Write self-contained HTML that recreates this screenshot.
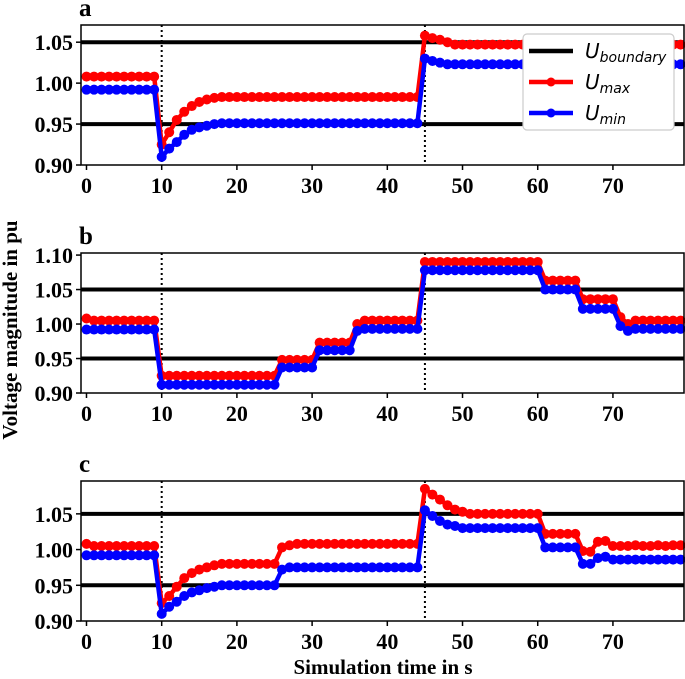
<!DOCTYPE html>
<html><head><meta charset="utf-8"><style>
html,body{margin:0;padding:0;background:#fff;}
svg{display:block;}
</style></head><body>
<svg id="chart" width="685" height="679" xmlns="http://www.w3.org/2000/svg"></svg>
<script>
const times = Array.from({length:80},(_,i)=>i);
const xTicks = [0,10,20,30,40,50,60,70];
const events = [10,45];
const boundaries = [0.95,1.05];
const aMax = [1.008,1.008,1.008,1.008,1.008,1.008,1.008,1.008,1.008,1.008,0.925,0.940,0.955,0.965,0.972,0.977,0.980,0.982,0.983,0.983,0.983,0.983,0.983,0.983,0.983,0.983,0.983,0.983,0.983,0.983,0.983,0.983,0.983,0.983,0.983,0.983,0.983,0.983,0.983,0.983,0.983,0.983,0.983,0.983,0.983,1.058,1.055,1.053,1.050,1.047,1.047,1.047,1.047,1.047,1.047,1.047,1.047,1.047,1.047,1.047,1.047,1.047,1.047,1.047,1.047,1.047,1.047,1.047,1.047,1.047,1.047,1.047,1.047,1.047,1.047,1.047,1.047,1.047,1.047,1.047];
const aMin = [0.992,0.992,0.992,0.992,0.992,0.992,0.992,0.992,0.992,0.992,0.910,0.920,0.928,0.937,0.943,0.946,0.948,0.950,0.951,0.951,0.951,0.951,0.951,0.951,0.951,0.951,0.951,0.951,0.951,0.951,0.951,0.951,0.951,0.951,0.951,0.951,0.951,0.951,0.951,0.951,0.951,0.951,0.951,0.951,0.951,1.030,1.027,1.025,1.023,1.023,1.023,1.023,1.023,1.023,1.023,1.023,1.023,1.023,1.023,1.023,1.023,1.023,1.023,1.023,1.023,1.023,1.023,1.023,1.023,1.023,1.023,1.023,1.023,1.023,1.023,1.023,1.023,1.023,1.023,1.023];
const bMax = [1.008,1.005,1.005,1.005,1.005,1.005,1.005,1.005,1.005,1.005,0.925,0.925,0.925,0.925,0.925,0.925,0.925,0.925,0.925,0.925,0.925,0.925,0.925,0.925,0.925,0.925,0.948,0.948,0.948,0.948,0.948,0.973,0.973,0.973,0.973,0.973,1.000,1.005,1.005,1.005,1.005,1.005,1.005,1.005,1.005,1.090,1.090,1.090,1.090,1.090,1.090,1.090,1.090,1.090,1.090,1.090,1.090,1.090,1.090,1.090,1.090,1.063,1.063,1.063,1.063,1.063,1.036,1.036,1.036,1.036,1.036,1.010,1.000,1.005,1.005,1.005,1.005,1.005,1.005,1.005];
const bMin = [0.992,0.992,0.992,0.992,0.992,0.992,0.992,0.992,0.992,0.992,0.912,0.912,0.912,0.912,0.912,0.912,0.912,0.912,0.912,0.912,0.912,0.912,0.912,0.912,0.912,0.912,0.937,0.937,0.937,0.937,0.937,0.962,0.962,0.962,0.962,0.962,0.990,0.993,0.993,0.993,0.993,0.993,0.993,0.993,0.993,1.078,1.078,1.078,1.078,1.078,1.078,1.078,1.078,1.078,1.078,1.078,1.078,1.078,1.078,1.078,1.078,1.050,1.050,1.050,1.050,1.050,1.022,1.022,1.022,1.022,1.022,0.997,0.990,0.993,0.993,0.993,0.993,0.993,0.993,0.993];
const cMax = [1.008,1.005,1.005,1.005,1.005,1.005,1.005,1.005,1.005,1.005,0.925,0.935,0.948,0.960,0.967,0.972,0.975,0.978,0.980,0.980,0.980,0.980,0.980,0.980,0.980,0.980,1.003,1.006,1.008,1.008,1.008,1.008,1.008,1.008,1.008,1.008,1.008,1.008,1.008,1.008,1.008,1.008,1.008,1.008,1.008,1.085,1.077,1.070,1.062,1.056,1.053,1.050,1.050,1.050,1.050,1.050,1.050,1.050,1.050,1.050,1.050,1.022,1.022,1.022,1.022,1.022,0.998,0.997,1.011,1.012,1.005,1.005,1.005,1.006,1.005,1.005,1.006,1.005,1.006,1.006];
const cMin = [0.992,0.992,0.992,0.992,0.992,0.992,0.992,0.992,0.992,0.992,0.910,0.920,0.927,0.935,0.940,0.943,0.946,0.948,0.950,0.950,0.950,0.950,0.950,0.950,0.950,0.950,0.972,0.975,0.975,0.975,0.975,0.975,0.975,0.975,0.975,0.975,0.975,0.975,0.975,0.975,0.975,0.975,0.975,0.975,0.975,1.055,1.047,1.040,1.035,1.033,1.030,1.030,1.030,1.030,1.030,1.030,1.030,1.030,1.030,1.030,1.030,1.003,1.003,1.003,1.003,1.003,0.980,0.980,0.988,0.990,0.986,0.986,0.986,0.986,0.986,0.986,0.986,0.986,0.986,0.986];
const aTicks = [0.90,0.95,1.00,1.05];
const bTicks = [0.90,0.95,1.00,1.05,1.10];
const cTicks = [0.90,0.95,1.00,1.05];

const NS='http://www.w3.org/2000/svg';
const svg=document.getElementById('chart');
function mk(tag,attrs,parent){const e=document.createElementNS(NS,tag);for(const k in attrs)e.setAttribute(k,attrs[k]);(parent||svg).appendChild(e);return e;}
const L=81,R=684;
const xMin=-0.73,xMax=79.45;
const xs=v=>L+(v-xMin)/(xMax-xMin)*(R-L);
const FONT='"Liberation Serif", serif';

const panels=[
 {id:'a',top:25,bot:165,ymin:0.9,ymax:1.071,ticks:aTicks,mx:aMax,mn:aMin},
 {id:'b',top:253,bot:393,ymin:0.9,ymax:1.103,ticks:bTicks,mx:bMax,mn:bMin},
 {id:'c',top:481,bot:621,ymin:0.9,ymax:1.096,ticks:cTicks,mx:cMax,mn:cMin}
];
panels.forEach(p=>{
 const ys=v=>p.bot-(v-p.ymin)/(p.ymax-p.ymin)*(p.bot-p.top);
 const g=mk('g',{});
 
 
 const lbl=mk('text',{x:79,y:p.top-9,'font-family':FONT,'font-weight':'bold','font-size':25},g);
 lbl.textContent=p.id;
 
 
 boundaries.forEach(b=>{
  const ln=mk('line',{x1:L,x2:R,y1:ys(b),y2:ys(b),stroke:'#000','stroke-width':4},g);
  
  
 });
 events.forEach(e=>{
  const ln=mk('line',{x1:xs(e),x2:xs(e),y1:p.top,y2:p.bot,stroke:'#000','stroke-width':2,'stroke-dasharray':'2,3'},g);
  
  
 });
 [[p.mx,'#ff0000','u-max'],[p.mn,'#0000ff','u-min']].forEach(([arr,col,nm])=>{
  const d=arr.map((v,i)=>(i?'L':'M')+xs(times[i]).toFixed(2)+','+ys(v).toFixed(2)).join(' ');
  const path=mk('path',{d:d,fill:'none',stroke:col,'stroke-width':4.5,'stroke-linejoin':'round'},g);
  
  
  arr.forEach((v,i)=>{
   const c=mk('circle',{cx:xs(times[i]),cy:ys(v),r:5,fill:col},g);
   
   
  });
 });
 const fr=mk('rect',{x:L,y:p.top,width:R-L,height:p.bot-p.top,fill:'none',stroke:'#000','stroke-width':1.5},g);
 
 
 p.ticks.forEach(t=>{
  mk('line',{x1:L-5,x2:L,y1:ys(t),y2:ys(t),stroke:'#000','stroke-width':1.5},g);
  const tx=mk('text',{x:L-8,y:ys(t)+8,'text-anchor':'end','font-family':FONT,'font-weight':'bold','font-size':22},g);
  tx.textContent=t.toFixed(2);
  
  
 });
 xTicks.forEach(t=>{
  mk('line',{x1:xs(t),x2:xs(t),y1:p.bot,y2:p.bot+5,stroke:'#000','stroke-width':1.5},g);
  const tx=mk('text',{x:xs(t),y:p.bot+28,'text-anchor':'middle','font-family':FONT,'font-weight':'bold','font-size':22},g);
  tx.textContent=t;
  
  
 });
});
// legend
const lg=mk('g',{});


mk('rect',{x:523,y:34,width:151,height:96,rx:4,fill:'#fff',stroke:'#ccc','stroke-width':1.2},lg);
[['#000',51,'boundary',false],['#ff0000',82,'max',true],['#0000ff',113,'min',true]].forEach(([col,y,sub,mark])=>{
 const e=mk('g',{},lg);
 
 
 mk('line',{x1:529,x2:573,y1:y,y2:y,stroke:col,'stroke-width':4.5},e);
 if(mark) mk('circle',{cx:551,cy:y,r:4.5,fill:col},e);
 const t=mk('text',{x:585,y:y+7,'font-family':'"DejaVu Sans", sans-serif','font-style':'italic','font-size':20},e);
 const t1=mk('tspan',{},t);t1.textContent='U';
 const t2=mk('tspan',{'font-size':14,dy:4},t);t2.textContent=sub;
});
const yl=mk('text',{x:0,y:0,transform:'translate(17,330) rotate(-90)','text-anchor':'middle','font-family':FONT,'font-weight':'bold','font-size':21});
yl.textContent='Voltage magnitude in pu';


const xl=mk('text',{x:383,y:674,'text-anchor':'middle','font-family':FONT,'font-weight':'bold','font-size':21});
xl.textContent='Simulation time in s';


</script>
</body></html>
